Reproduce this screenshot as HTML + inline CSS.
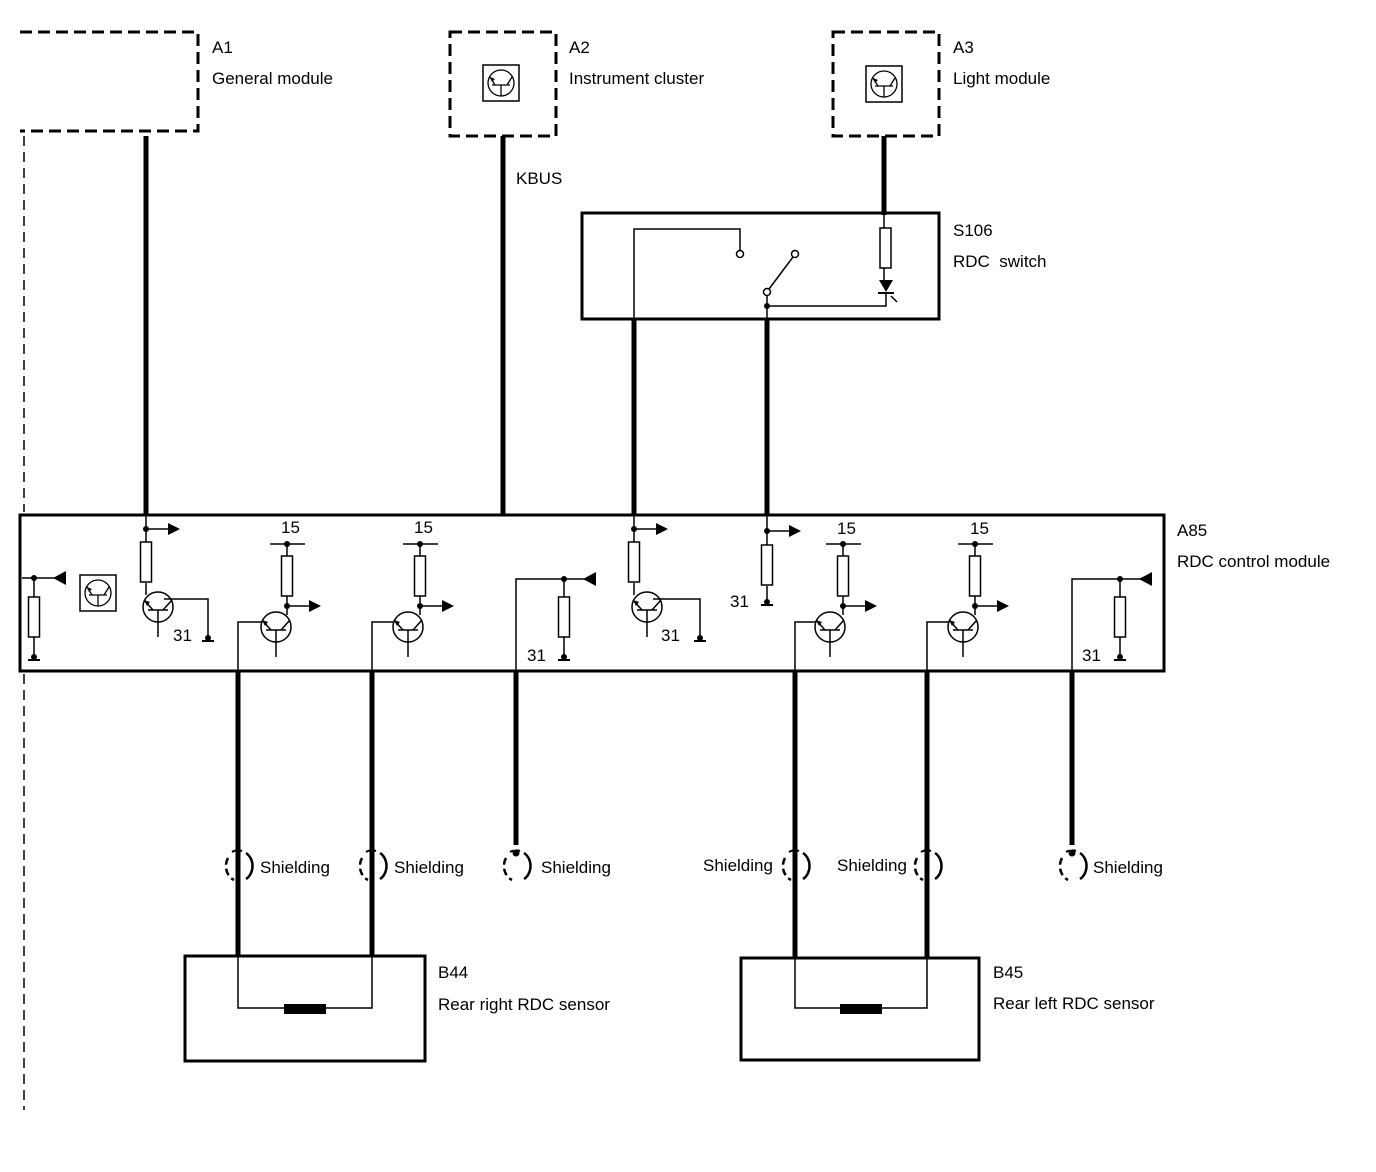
<!DOCTYPE html>
<html><head><meta charset="utf-8"><style>
html,body{margin:0;padding:0;background:#fff}
svg{display:block}
text{font-family:"Liberation Sans",Arial,sans-serif;font-size:17px;fill:#000}
</style></head><body>
<svg width="1376" height="1172" viewBox="0 0 1376 1172" xmlns="http://www.w3.org/2000/svg">
<defs>
<g id="tr">
 <circle cx="0" cy="0" r="15" fill="none" stroke="#000" stroke-width="1.5"/>
 <line x1="-10" y1="3" x2="10" y2="3" stroke="#000" stroke-width="1.5"/>
 <line x1="0" y1="3" x2="0" y2="30" stroke="#000" stroke-width="1.5"/>
 <line x1="-5" y1="3" x2="-14" y2="-7" stroke="#000" stroke-width="1.5"/>
 <line x1="5" y1="3" x2="14" y2="-7" stroke="#000" stroke-width="1.5"/>
 <polygon points="-14,-7 -8,-5 -11,-1" fill="#000"/>
</g>
<g id="icon">
 <rect x="0" y="0" width="36" height="36" fill="none" stroke="#000" stroke-width="1.5"/>
 <circle cx="18" cy="18" r="13" fill="none" stroke="#000" stroke-width="1.3"/>
 <line x1="9" y1="20" x2="27" y2="20" stroke="#000" stroke-width="1.3"/>
 <line x1="18" y1="20" x2="18" y2="31" stroke="#000" stroke-width="1.3"/>
 <line x1="12" y1="20" x2="7" y2="12" stroke="#000" stroke-width="1.3"/>
 <line x1="24" y1="20" x2="29" y2="12" stroke="#000" stroke-width="1.3"/>
 <polygon points="7,12 12,14 9,17" fill="#000"/>
</g>
<g id="res"><rect x="-5.5" y="0" width="11" height="40" fill="#fff" stroke="#000" stroke-width="1.5"/></g>
<g id="gnd"><circle cx="0" cy="0" r="3" fill="#000"/><line x1="-6" y1="3" x2="6" y2="3" stroke="#000" stroke-width="2"/></g>
<g id="ar"><line x1="0" y1="0" x2="24" y2="0" stroke="#000" stroke-width="1.5"/><polygon points="22,-6 34,0 22,6" fill="#000"/><circle cx="0" cy="0" r="3" fill="#000"/></g>
<g id="al"><line x1="0" y1="0" x2="32" y2="0" stroke="#000" stroke-width="1.5"/><polygon points="19,0 32,-7 32,7" fill="#000"/><circle cx="0" cy="0" r="3" fill="#000"/></g>
<g id="sh"><path d="M-10,-8 A13,15 0 0 0 -4,14" fill="none" stroke="#000" stroke-width="2.5" stroke-dasharray="7,4"/><path d="M8,-13 A13,15 0 0 1 8,13" fill="none" stroke="#000" stroke-width="2.5"/><path d="M-6,-14 A13,15 0 0 1 4,-15" fill="none" stroke="#000" stroke-width="2" stroke-dasharray="4,3"/></g>
</defs>

<g fill="none" stroke="#000">
 <path d="M20,32 H198 V131 H20" stroke-width="3" stroke-dasharray="12,6"/>
 <line x1="24" y1="136" x2="24" y2="512" stroke-width="1.5" stroke-dasharray="10,6"/>
 <line x1="24" y1="674" x2="24" y2="1110" stroke-width="1.5" stroke-dasharray="10,6"/>
 <rect x="450" y="32" width="106" height="104" stroke-width="3" stroke-dasharray="12,6"/>
 <rect x="833" y="32" width="106" height="104" stroke-width="3" stroke-dasharray="12,6"/>
 <line x1="146" y1="136" x2="146" y2="515" stroke-width="5"/>
 <line x1="503" y1="136" x2="503" y2="515" stroke-width="5"/>
 <line x1="884" y1="136" x2="884" y2="215" stroke-width="5"/>
 <line x1="634" y1="319" x2="634" y2="515" stroke-width="5"/>
 <line x1="767" y1="319" x2="767" y2="515" stroke-width="5"/>
 <rect x="582" y="213" width="357" height="106" stroke-width="3"/>
 <path d="M634,319 V229 H740 V250" stroke-width="1.5"/>
 <circle cx="740" cy="254" r="3.5" stroke-width="1.5"/>
 <circle cx="795" cy="254" r="3.5" stroke-width="1.5"/>
 <circle cx="767" cy="292" r="3.5" stroke-width="1.5"/>
 <line x1="769" y1="289" x2="793" y2="257" stroke-width="1.5"/>
 <path d="M767,296 V319 M767,306 H886 V292" stroke-width="1.5"/>
 <line x1="884" y1="215" x2="884" y2="228" stroke-width="1.5"/>
 <line x1="884" y1="268" x2="884" y2="280" stroke-width="1.5"/>
 <rect x="20" y="515" width="1144" height="156" stroke-width="3"/>
 <line x1="238" y1="671" x2="238" y2="956" stroke-width="5"/>
 <line x1="372" y1="671" x2="372" y2="956" stroke-width="5"/>
 <line x1="516" y1="671" x2="516" y2="845" stroke-width="5"/>
 <line x1="795" y1="671" x2="795" y2="958" stroke-width="5"/>
 <line x1="927" y1="671" x2="927" y2="958" stroke-width="5"/>
 <line x1="1072" y1="671" x2="1072" y2="845" stroke-width="5"/>
 <rect x="185" y="956" width="240" height="105" stroke-width="3"/>
 <path d="M238,956 V1008 H372 V956" stroke-width="1.5"/>
 <rect x="741" y="958" width="238" height="102" stroke-width="3"/>
 <path d="M795,958 V1008 H927 V958" stroke-width="1.5"/>
 <path d="M146,515 V542 M146,583 V595 M164,599 H208 V637 M34,578 V597 M34,637 V655 M22,578 H34" stroke-width="1.5"/>
 <path d="M238,671 V622 H262 M287,544 V556 M287,596 V615 M270,544 H305" stroke-width="1.5"/>
 <path d="M372,671 V622 H394 M420,544 V556 M420,596 V615 M403,544 H438" stroke-width="1.5"/>
 <path d="M516,671 V579 H564 V597 M564,637 V655" stroke-width="1.5"/>
 <path d="M634,515 V542 M634,583 V595 M653,599 H700 V637" stroke-width="1.5"/>
 <path d="M767,515 V545 M767,586 V600" stroke-width="1.5"/>
 <path d="M795,671 V622 H816 M843,544 V556 M843,596 V615 M826,544 H861" stroke-width="1.5"/>
 <path d="M927,671 V622 H949 M975,544 V556 M975,596 V615 M958,544 H993" stroke-width="1.5"/>
 <path d="M1072,671 V579 H1120 V597 M1120,637 V655" stroke-width="1.5"/>
</g>
<rect x="880" y="228" width="11" height="40" fill="#fff" stroke="#000" stroke-width="1.5"/>
<polygon points="879,280 893,280 886,292" fill="#000"/>
<line x1="878" y1="293" x2="894" y2="293" stroke="#000" stroke-width="2"/>
<line x1="891" y1="296" x2="897" y2="302" stroke="#000" stroke-width="1.5"/>
<circle cx="767" cy="306" r="3" fill="#000"/>
<rect x="284" y="1004" width="42" height="10" fill="#000"/>
<rect x="840" y="1004" width="42" height="10" fill="#000"/>

<use href="#icon" x="483" y="65"/>
<use href="#icon" x="866" y="66"/>
<use href="#icon" x="80" y="575"/>

<use href="#res" x="34" y="597"/><use href="#gnd" x="34" y="657"/><use href="#al" x="34" y="578"/>
<use href="#res" x="146" y="542"/><use href="#ar" x="146" y="529"/><use href="#tr" x="158" y="607"/><use href="#gnd" x="208" y="638"/>
<use href="#res" x="287" y="556"/><use href="#ar" x="287" y="606"/><use href="#tr" x="276" y="627"/><circle cx="287" cy="544" r="3"/>
<use href="#res" x="420" y="556"/><use href="#ar" x="420" y="606"/><use href="#tr" x="408" y="627"/><circle cx="420" cy="544" r="3"/>
<use href="#res" x="564" y="597"/><use href="#gnd" x="564" y="657"/><use href="#al" x="564" y="579"/>
<use href="#res" x="634" y="542"/><use href="#ar" x="634" y="529"/><use href="#tr" x="647" y="607"/><use href="#gnd" x="700" y="638"/>
<use href="#res" x="767" y="545"/><use href="#ar" x="767" y="531"/><use href="#gnd" x="767" y="602"/>
<use href="#res" x="843" y="556"/><use href="#ar" x="843" y="606"/><use href="#tr" x="830" y="627"/><circle cx="843" cy="544" r="3"/>
<use href="#res" x="975" y="556"/><use href="#ar" x="975" y="606"/><use href="#tr" x="963" y="627"/><circle cx="975" cy="544" r="3"/>
<use href="#res" x="1120" y="597"/><use href="#gnd" x="1120" y="657"/><use href="#al" x="1120" y="579"/>

<use href="#sh" x="238" y="866"/><use href="#sh" x="372" y="866"/><use href="#sh" x="516" y="866"/>
<use href="#sh" x="795" y="866"/><use href="#sh" x="927" y="866"/><use href="#sh" x="1072" y="866"/>
<circle cx="516" cy="853" r="3.5"/><circle cx="1072" cy="853" r="3.5"/>

<text x="212" y="53">A1</text><text x="212" y="84">General module</text>
<text x="569" y="53">A2</text><text x="569" y="84">Instrument cluster</text>
<text x="953" y="53">A3</text><text x="953" y="84">Light module</text>
<text x="516" y="184">KBUS</text>
<text x="953" y="236">S106</text><text x="953" y="267">RDC&#160; switch</text>
<text x="1177" y="536">A85</text><text x="1177" y="567">RDC control module</text>
<text x="281" y="533">15</text><text x="414" y="533">15</text><text x="837" y="534">15</text><text x="970" y="534">15</text>
<text x="173" y="641">31</text><text x="527" y="661">31</text><text x="661" y="641">31</text><text x="730" y="607">31</text><text x="1082" y="661">31</text>
<text x="260" y="873">Shielding</text><text x="394" y="873">Shielding</text><text x="541" y="873">Shielding</text>
<text x="703" y="871">Shielding</text><text x="837" y="871">Shielding</text><text x="1093" y="873">Shielding</text>
<text x="438" y="978">B44</text><text x="438" y="1010">Rear right RDC sensor</text>
<text x="993" y="978">B45</text><text x="993" y="1009">Rear left RDC sensor</text>
</svg>
</body></html>
